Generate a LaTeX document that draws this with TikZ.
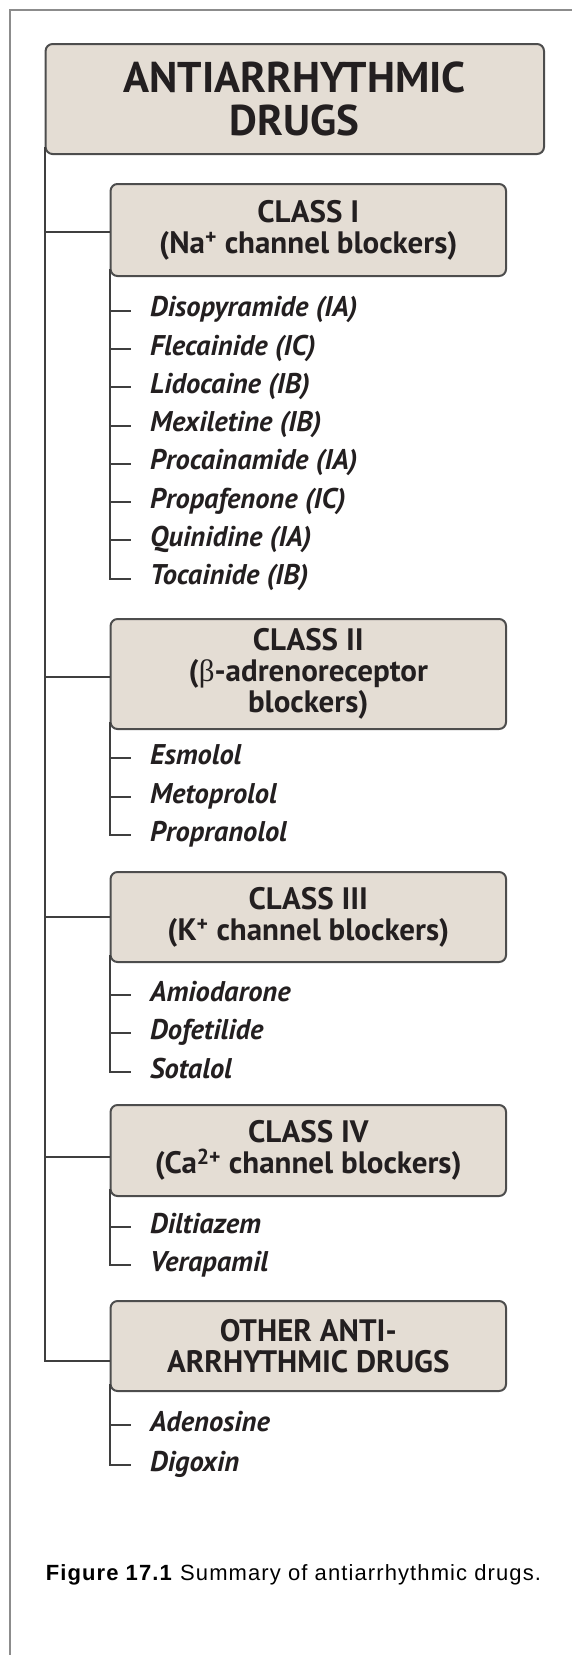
\documentclass[tikz,border=0pt]{standalone}
\usepackage{fontspec}
\setmainfont{PT Sans}
\newfontfamily\captionfont{Liberation Sans}[LetterSpace=5]
\newfontfamily\greekfont{Liberation Serif}
\usetikzlibrary{calc,positioning}

\definecolor{boxfill}{HTML}{E4DDD4}
\definecolor{boxline}{HTML}{4D4D4D}
\definecolor{treeline}{HTML}{3F3F3F}
\definecolor{framegray}{HTML}{8C8C8C}
\definecolor{inkblack}{HTML}{231F20}

\tikzset{
  drugbox/.style={draw=boxline, fill=boxfill, line width=2pt, rounded corners=7pt,
    align=center, minimum width=395.5pt, inner sep=0pt, text=inkblack,
    font=\fontsize{31}{31}\selectfont\bfseries},
  headbox/.style={drugbox, minimum width=498.4pt, minimum height=110pt,
    font=\fontsize{43}{43}\selectfont\bfseries},
  drug/.style={anchor=west, inner sep=0pt, text height=20pt, text depth=8pt,
    text=inkblack, font=\fontsize{28.5}{30}\selectfont\bfseries\itshape},
  tree/.style={draw=treeline, line width=2pt},
}

\begin{document}
\begin{tikzpicture}[x=1pt,y=-1pt]
        \useasboundingbox (0,0) rectangle (572,1655);
        \draw[framegray, line width=2pt] (10,1655) -- (10,9.5) -- (572,9.5);

        \node[headbox] (head) at (294.8,99) {ANTIARRHYTHMIC\\DRUGS};

        % class boxes
        \node[drugbox, minimum height=92pt] (cls1) at (308.3,230) {CLASS I\\(Na\textsuperscript{+} channel blockers)};
        \node[drugbox, minimum height=110pt] (cls2) at (308.3,674) {CLASS II\\({\greekfont\mdseries β}-adrenoreceptor\\blockers)};
        \node[drugbox, minimum height=90pt] (cls3) at (308.3,917) {CLASS III\\(K\textsuperscript{+} channel blockers)};
        \node[drugbox, minimum height=91pt] (cls4) at (308.3,1150.5) {CLASS IV\\(Ca\textsuperscript{2+} channel blockers)};
        \node[drugbox, minimum height=90pt] (oth) at (308.3,1346) {OTHER ANTI-\\ARRHYTHMIC DRUGS};

        \coordinate (j1) at ([yshift=-2pt]cls1.west);
        \coordinate (j2) at ([yshift=-3pt]cls2.west);
        \coordinate (j3) at (cls3.west);
        \coordinate (j4) at ([yshift=-6pt]cls4.west);
        \coordinate (j5) at ([yshift=-15pt]oth.west);

        \draw[tree] ([yshift=8pt]head.south west) |- (j5);
        \draw[tree] (head.south west |- j1) -- (j1);
        \draw[tree] (head.south west |- j2) -- (j2);
        \draw[tree] (head.south west |- j3) -- (j3);
        \draw[tree] (head.south west |- j4) -- (j4);

        % class I drugs
        \node[drug] (diso) at (150,310.5) {Disopyramide (IA)};
        \node[drug] (flec) at (150,349) {Flecainide (IC)};
        \node[drug] (lido) at (150,387) {Lidocaine (IB)};
        \node[drug] (mexi) at (150,425.5) {Mexiletine (IB)};
        \node[drug] (proc) at (150,463.5) {Procainamide (IA)};
        \node[drug] (prop) at (150,502) {Propafenone (IC)};
        \node[drug] (quin) at (150,540) {Quinidine (IA)};
        \node[drug] (toca) at (150,578.5) {Tocainide (IB)};
        \draw[tree] ([yshift=8pt]cls1.south west) |- ([xshift=-19pt]toca.west);
        \draw[tree] (cls1.west |- diso.west) -- ([xshift=-19pt]diso.west);
        \draw[tree] (cls1.west |- flec.west) -- ([xshift=-19pt]flec.west);
        \draw[tree] (cls1.west |- lido.west) -- ([xshift=-19pt]lido.west);
        \draw[tree] (cls1.west |- mexi.west) -- ([xshift=-19pt]mexi.west);
        \draw[tree] (cls1.west |- proc.west) -- ([xshift=-19pt]proc.west);
        \draw[tree] (cls1.west |- prop.west) -- ([xshift=-19pt]prop.west);
        \draw[tree] (cls1.west |- quin.west) -- ([xshift=-19pt]quin.west);

        % class II drugs
        \node[drug] (esmo) at (150,758) {Esmolol};
        \node[drug] (meto) at (150,797) {Metoprolol};
        \node[drug] (propr) at (150,835) {Propranolol};
        \draw[tree] ([yshift=8pt]cls2.south west) |- ([xshift=-19pt]propr.west);
        \draw[tree] (cls2.west |- esmo.west) -- ([xshift=-19pt]esmo.west);
        \draw[tree] (cls2.west |- meto.west) -- ([xshift=-19pt]meto.west);

        % class III drugs
        \node[drug] (amio) at (150,995) {Amiodarone};
        \node[drug] (dofe) at (150,1033) {Dofetilide};
        \node[drug] (sota) at (150,1072) {Sotalol};
        \draw[tree] ([yshift=8pt]cls3.south west) |- ([xshift=-19pt]sota.west);
        \draw[tree] (cls3.west |- amio.west) -- ([xshift=-19pt]amio.west);
        \draw[tree] (cls3.west |- dofe.west) -- ([xshift=-19pt]dofe.west);

        % class IV drugs
        \node[drug] (dilt) at (150,1227) {Diltiazem};
        \node[drug] (vera) at (150,1265) {Verapamil};
        \draw[tree] ([yshift=8pt]cls4.south west) |- ([xshift=-19pt]vera.west);
        \draw[tree] (cls4.west |- dilt.west) -- ([xshift=-19pt]dilt.west);

        % other drugs
        \node[drug] (aden) at (150,1425) {Adenosine};
        \node[drug] (digo) at (150,1465) {Digoxin};
        \draw[tree] ([yshift=8pt]oth.south west) |- ([xshift=-19pt]digo.west);
        \draw[tree] (oth.west |- aden.west) -- ([xshift=-19pt]aden.west);

        \node[anchor=west, inner sep=0pt, text=black,
              font=\captionfont\fontsize{22}{24}\selectfont] (cap) at (45.6,1575)
              {\textbf{Figure 17.1} Summary of antiarrhythmic drugs.};
\end{tikzpicture}
\end{document}
